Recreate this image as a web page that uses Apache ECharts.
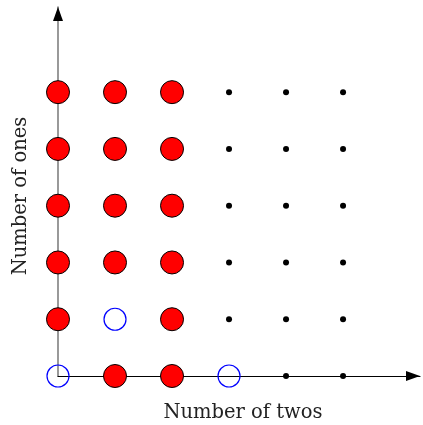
<!DOCTYPE html>
<html><head><meta charset="utf-8">
<script src="https://cdn.jsdelivr.net/npm/echarts@6/dist/echarts.min.js"></script>
<style>html,body{margin:0;padding:0;background:#fff}#c{width:423px;height:425px}</style>
</head><body><div id="c"></div>
<script>
// [number of twos, number of ones]
const redPoints = [[0,5],[1,5],[2,5],[0,4],[1,4],[2,4],[0,3],[1,3],[2,3],[0,2],[1,2],[2,2],[0,1],[2,1],[1,0],[2,0]];
const bluePoints = [[1,1],[0,0],[3,0]];
const dotPoints = [[3,5],[4,5],[5,5],[3,4],[4,4],[5,4],[3,3],[4,3],[5,3],[3,2],[4,2],[5,2],[3,1],[4,1],[5,1],[4,0],[5,0]];
const xName = 'Number of twos';
const yName = 'Number of ones';

const chart = echarts.init(document.getElementById('c'), null, {renderer:'canvas'});
const font = 'DejaVu Serif';
chart.setOption({
  animation:false,
  grid:{left:58, top:7, width:362, height:369, outerBoundsMode:'none', containLabel:false},
  xAxis:{type:'value', min:0, max:6.35, name:xName, nameLocation:'middle', nameGap:27,
    nameTextStyle:{fontFamily:font, fontSize:19.5, color:'#222', padding:[0,0,0,8]},
    axisLine:{lineStyle:{color:'#000', width:1.2}, symbol:['none','triangle'], symbolSize:[10,14], symbolOffset:[0,-7]},
    axisTick:{show:false}, axisLabel:{show:false}, splitLine:{show:false}},
  yAxis:[{type:'value', min:0, max:6.5, name:yName, nameLocation:'middle', nameGap:27,
    nameTextStyle:{fontFamily:font, fontSize:19.5, color:'#222', padding:[0,9,0,0]},
    axisLine:{lineStyle:{color:'#808080', width:1.6}, symbol:'none'},
    axisTick:{show:false}, axisLabel:{show:false}, splitLine:{show:false}},
    {type:'value', min:0, max:6.5, position:'left',
    axisLine:{onZero:false, lineStyle:{color:'#000', width:0.01}, symbol:['none','triangle'], symbolSize:[10,14], symbolOffset:[0,-7]},
    axisTick:{show:false}, axisLabel:{show:false}, splitLine:{show:false}}],
  series:[
    {type:'scatter', data:redPoints, symbolSize:23, itemStyle:{color:'#ff0000', borderColor:'#000', borderWidth:1, opacity:1}, z:3},
    {type:'scatter', data:bluePoints, symbolSize:22, itemStyle:{color:'transparent', borderColor:'#0000ff', borderWidth:1.2, opacity:1}, z:3},
    {type:'scatter', data:dotPoints, symbolSize:6, itemStyle:{color:'#000', opacity:1}, z:3}
  ]
});
</script></body></html>
